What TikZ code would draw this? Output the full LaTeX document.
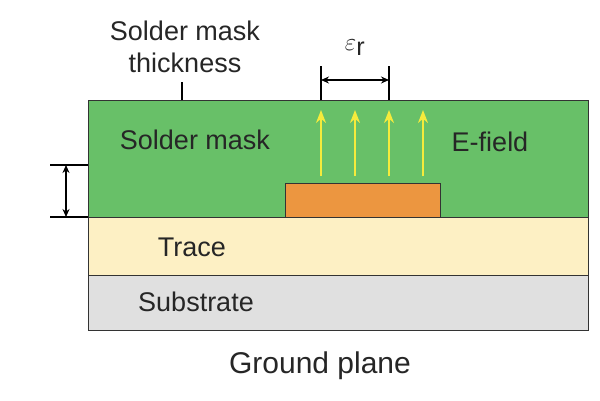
\documentclass[tikz,border=0pt]{standalone}
\usepackage{fontspec}
\setmainfont{Liberation Sans}
\usetikzlibrary{arrows.meta}
\begin{document}
\begin{tikzpicture}[x=1pt,y=-1pt,
  lbl/.style={font=\fontsize{27}{32}\selectfont,text=black!85},
  dim/.style={line width=1.4pt,{Stealth[length=8pt,width=7pt]}-{Stealth[length=8pt,width=7pt]}},
  thin/.style={line width=1.1pt},
  efield/.style={line width=1.8pt,-{Stealth[length=13pt,width=10pt]},draw={rgb,255:red,245;green,235;blue,60}}]
\useasboundingbox (0,0) rectangle (600,400);
\node[draw=black!80,minimum width=500pt,minimum height=117pt,anchor=north west,inner sep=0,line width=1pt,fill={rgb,255:red,104;green,192;blue,104}] (mask) at (88,100) {};
\node[draw=black!80,fill={rgb,255:red,253;green,240;blue,196},minimum width=500pt,minimum height=58pt,anchor=north west,inner sep=0,line width=1pt] (trace) at (88,217) {};
\node[draw=black!80,fill={rgb,255:red,224;green,224;blue,224},minimum width=500pt,minimum height=55pt,anchor=north west,inner sep=0,line width=1pt] (sub) at (88,275) {};
\node[draw=black!80,fill={rgb,255:red,236;green,150;blue,64},minimum width=155pt,minimum height=34pt,anchor=north west,inner sep=0,line width=1pt] (cu) at (285,183) {};
\foreach \x in {321,355,389,423} {
  \coordinate (a\x) at (\x,176); \coordinate (b\x) at (\x,110);
  \draw[efield] (a\x) -- (b\x);}
\coordinate (t1) at (321,66); \coordinate (t1b) at (321,100);
\coordinate (t2) at (389,66); \coordinate (t2b) at (389,100);
\draw[thin] (t1) -- (t1b); \draw[thin] (t2) -- (t2b);
\coordinate (d1) at (321,80); \coordinate (d2) at (389,80);
\draw[dim] (d1) -- (d2);
\node[lbl,font=\fontsize{36}{40}\selectfont] (eps) at (355,48) {$\varepsilon_{\mathrm{r}}$};
\node[lbl,align=center] (smt) at (185,47) {Solder mask\\thickness};
\coordinate (s1) at (182,82); \coordinate (s2) at (182,100);
\draw[thin] (s1) -- (s2);
\coordinate (h1) at (50,165); \coordinate (h1b) at (88,165);
\coordinate (h2) at (50,217); \coordinate (h2b) at (88,217);
\draw[thin] (h1) -- (h1b); \draw[thin] (h2) -- (h2b);
\coordinate (v1) at (66,165); \coordinate (v2) at (66,217);
\draw[dim] (v1) -- (v2);
\node[lbl] (l1) at (195,140) {Solder mask};
\node[lbl] (l2) at (490,142) {E-field};
\node[lbl] (l3) at (192,247) {Trace};
\node[lbl] (l4) at (196,302) {Substrate};
\node[lbl,font=\fontsize{30}{34}\selectfont] (l5) at (320,366) {Ground plane};
\end{tikzpicture}
\end{document}
